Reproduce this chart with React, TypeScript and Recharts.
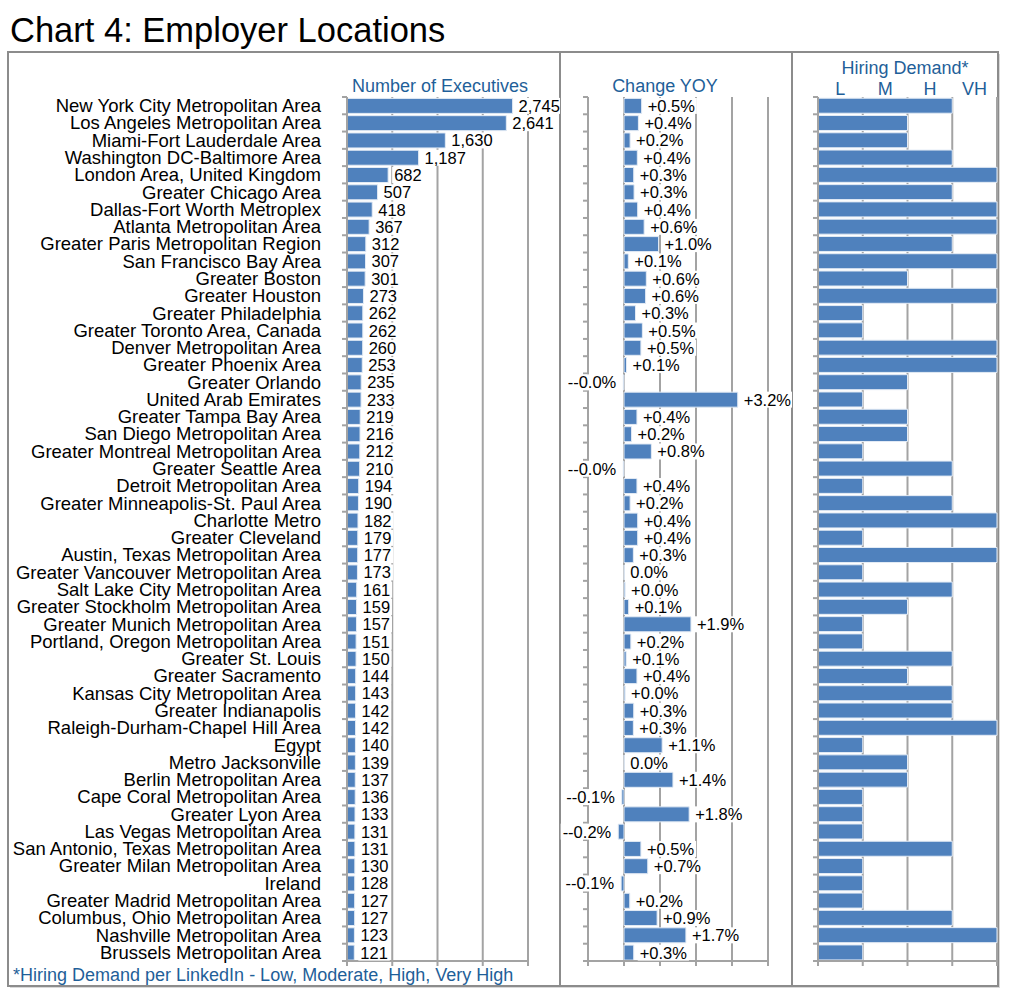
import React from "react";
import { BarChart, Bar, XAxis, YAxis, CartesianGrid, LabelList } from "recharts";

const locations = [
  "New York City Metropolitan Area",
  "Los Angeles Metropolitan Area",
  "Miami-Fort Lauderdale Area",
  "Washington DC-Baltimore Area",
  "London Area, United Kingdom",
  "Greater Chicago Area",
  "Dallas-Fort Worth Metroplex",
  "Atlanta Metropolitan Area",
  "Greater Paris Metropolitan Region",
  "San Francisco Bay Area",
  "Greater Boston",
  "Greater Houston",
  "Greater Philadelphia",
  "Greater Toronto Area, Canada",
  "Denver Metropolitan Area",
  "Greater Phoenix Area",
  "Greater Orlando",
  "United Arab Emirates",
  "Greater Tampa Bay Area",
  "San Diego Metropolitan Area",
  "Greater Montreal Metropolitan Area",
  "Greater Seattle Area",
  "Detroit Metropolitan Area",
  "Greater Minneapolis-St. Paul Area",
  "Charlotte Metro",
  "Greater Cleveland",
  "Austin, Texas Metropolitan Area",
  "Greater Vancouver Metropolitan Area",
  "Salt Lake City Metropolitan Area",
  "Greater Stockholm Metropolitan Area",
  "Greater Munich Metropolitan Area",
  "Portland, Oregon Metropolitan Area",
  "Greater St. Louis",
  "Greater Sacramento",
  "Kansas City Metropolitan Area",
  "Greater Indianapolis",
  "Raleigh-Durham-Chapel Hill Area",
  "Egypt",
  "Metro Jacksonville",
  "Berlin Metropolitan Area",
  "Cape Coral Metropolitan Area",
  "Greater Lyon Area",
  "Las Vegas Metropolitan Area",
  "San Antonio, Texas Metropolitan Area",
  "Greater Milan Metropolitan Area",
  "Ireland",
  "Greater Madrid Metropolitan Area",
  "Columbus, Ohio Metropolitan Area",
  "Nashville Metropolitan Area",
  "Brussels Metropolitan Area",
];

const executives = [
  2745, 2641, 1630, 1187, 682, 507, 418, 367, 312, 307, 301, 273, 262, 262, 260, 253, 235, 233, 219, 216,
  212, 210, 194, 190, 182, 179, 177, 173, 161, 159, 157, 151, 150, 144, 143, 142, 142, 140, 139, 137,
  136, 133, 131, 131, 130, 128, 127, 127, 123, 121,
];

// change year over year, in percent
const changeYoy = [
  0.49, 0.4, 0.17, 0.37, 0.27, 0.28, 0.38, 0.56, 0.96, 0.12, 0.62, 0.6, 0.32, 0.51, 0.47, 0.07, -0.02, 3.16, 0.36, 0.21,
  0.76, -0.02, 0.36, 0.17, 0.38, 0.38, 0.26, 0, 0.03, 0.13, 1.86, 0.19, 0.06, 0.36, 0.03, 0.27, 0.26, 1.06, 0, 1.36,
  -0.06, 1.81, -0.16, 0.47, 0.66, -0.08, 0.16, 0.92, 1.72, 0.27,
];

// 1 = Low, 2 = Moderate, 3 = High, 4 = Very High
const hiringDemand = [
  3, 2, 2, 3, 4, 3, 4, 4, 3, 4, 2, 4, 1, 1, 4, 4, 2, 1, 2, 2,
  1, 3, 1, 3, 4, 1, 4, 1, 3, 2, 1, 1, 3, 2, 3, 3, 4, 1, 2, 2,
  1, 1, 1, 3, 1, 1, 1, 3, 4, 1,
];

const demandLevels = ["L", "M", "H", "VH"];
const execTicks = [0, 750, 1500, 2250, 3000];
const changeTicks = [-1, 0, 1, 2, 3, 4];
const demandTicks = [0, 1, 2, 3, 4];
const demandLabelTicks = [0.5, 1.5, 2.5, 3.5];

const data = locations.map((name, i) => ({
  name,
  executives: executives[i],
  change: changeYoy[i],
  demand: hiringDemand[i],
}));

const FONT = '"Liberation Sans", Arial, Helvetica, sans-serif';
const BAR = "#4f81bd";
const BAR_EDGE = "#e3ebf5";
const GRID = "#a3a3a3";
const HEAD = "#1f5f99";
const TOP = 97;
const BOTTOM = 961;
const ROW = (BOTTOM - TOP) / locations.length;
const LABEL_SIZE = 16.5;

const charW: Record<string, number> = { ",": 0.278, ".": 0.278, "+": 0.584, "-": 0.333, "%": 0.889 };
function textWidth(s: string, size: number) {
  let w = 0;
  for (const c of s) w += charW[c] ?? 0.556;
  return w * size;
}

function CatTick(props: any) {
  const { y, index, payload, axisX, showText } = props;
  const top = y - ROW / 2;
  return (
    <g>
      <line x1={axisX - 5} x2={axisX} y1={top} y2={top} stroke={GRID} strokeWidth={2} />
      {index === locations.length - 1 && (
        <line x1={axisX - 5} x2={axisX} y1={y + ROW / 2} y2={y + ROW / 2} stroke={GRID} strokeWidth={2} />
      )}
      {showText && (
        <text x={321} y={y} textAnchor="end" dominantBaseline="central" fontSize={18.5} fill="#000">
          {payload.value}
        </text>
      )}
    </g>
  );
}

function EmptyTick() {
  return <g />;
}

function ValueLabel({ props, text }: { props: any; text: string }) {
  const vb = props.viewBox ?? props;
  const x = Number(vb.x);
  const w = Number(vb.width);
  const y = Number(vb.y);
  const h = Number(vb.height);
  const left = Math.min(x, x + w);
  const right = Math.max(x, x + w);
  const neg = Number(props.value) < 0;
  const tw = textWidth(text, LABEL_SIZE);
  const tx = neg ? left - 7 : right + 6;
  const cy = y + h / 2;
  const rx = neg ? tx - tw - 2 : tx - 2;
  return (
    <g>
      <rect x={rx} y={cy - 8} width={tw + 4} height={16} fill="#fff" />
      <text
        x={tx}
        y={cy}
        textAnchor={neg ? "end" : "start"}
        dominantBaseline="central"
        fontSize={LABEL_SIZE}
        fill="#000"
      >
        {text}
      </text>
    </g>
  );
}

function fmtChange(v: number) {
  if (v > 0) return `+${v.toFixed(1)}%`;
  if (v < 0) return `-${v.toFixed(1)}%`;
  return "0.0%";
}

const axisLine = { stroke: GRID, strokeWidth: 2 };

export default function App() {
  return (
    <div style={{ position: "absolute", left: 0, top: 0, width: 1024, height: 1004, fontFamily: FONT, background: "#fff" }}>
      <svg width={1024} height={1004} style={{ position: "absolute", left: 0, top: 0 }}>
        <text x={10} y={42} fontSize={34.5} fill="#000">
          Chart 4: Employer Locations
        </text>
        <rect x={10} y={54} width={990} height={934} fill="#d9d9d9" />
        <rect x={8} y={52} width={990} height={934} fill="#fff" stroke="#8c8c8c" strokeWidth={2} />
        <line x1={560} x2={560} y1={52} y2={986} stroke="#8c8c8c" strokeWidth={2} />
        <line x1={792} x2={792} y1={52} y2={986} stroke="#8c8c8c" strokeWidth={2} />
        <text x={440} y={92} textAnchor="middle" fontSize={18} fill={HEAD}>
          Number of Executives
        </text>
        <text x={665} y={92} textAnchor="middle" fontSize={18} fill={HEAD}>
          Change YOY
        </text>
        <text x={905} y={74} textAnchor="middle" fontSize={18} fill={HEAD}>
          Hiring Demand*
        </text>
        <text x={13} y={981} fontSize={18} fill={HEAD}>
          *Hiring Demand per LinkedIn - Low, Moderate, High, Very High
        </text>
      </svg>

      <div style={{ position: "absolute", left: 0, top: 0 }}>
        <BarChart
          width={560}
          height={1004}
          data={data}
          layout="vertical"
          barCategoryGap="8%"
          margin={{ top: TOP, right: 32, bottom: 1004 - BOTTOM - 20, left: 0 }}
        >
          <CartesianGrid horizontal={false} stroke={GRID} strokeWidth={2} />
          <XAxis
            type="number"
            domain={[0, 3000]}
            ticks={execTicks}
            tick={EmptyTick}
            tickSize={5}
            tickLine={axisLine}
            axisLine={axisLine}
            height={20}
          />
          <YAxis
            type="category"
            dataKey="name"
            width={347}
            interval={0}
            tickLine={false}
            axisLine={axisLine}
            tick={(p: any) => <CatTick {...p} axisX={347} showText />}
          />
          <Bar dataKey="executives" fill={BAR} stroke={BAR_EDGE} strokeWidth={1} isAnimationActive={false}>
            <LabelList
              dataKey="executives"
              content={(p: any) => <ValueLabel props={p} text={Number(p.value).toLocaleString("en-US")} />}
            />
          </Bar>
        </BarChart>
      </div>

      <div style={{ position: "absolute", left: 560, top: 0 }}>
        <BarChart
          width={232}
          height={1004}
          data={data}
          layout="vertical"
          barCategoryGap="8%"
          margin={{ top: TOP, right: 24, bottom: 1004 - BOTTOM - 20, left: 0 }}
        >
          <CartesianGrid horizontal={false} stroke={GRID} strokeWidth={2} />
          <XAxis
            type="number"
            domain={[-1, 4]}
            ticks={changeTicks}
            tick={EmptyTick}
            tickSize={5}
            tickLine={axisLine}
            axisLine={axisLine}
            height={20}
          />
          <YAxis
            type="category"
            dataKey="name"
            width={28}
            interval={0}
            tickLine={false}
            axisLine={axisLine}
            tick={(p: any) => <CatTick {...p} axisX={28} showText={false} />}
          />
          <Bar
            dataKey="change"
            fill={BAR}
            stroke={BAR_EDGE}
            strokeWidth={1}
            minPointSize={0.3}
            isAnimationActive={false}
          >
            <LabelList dataKey="change" content={(p: any) => <ValueLabel props={p} text={fmtChange(Number(p.value))} />} />
          </Bar>
        </BarChart>
      </div>

      <div style={{ position: "absolute", left: 792, top: 0 }}>
        <BarChart
          width={220}
          height={1004}
          data={data}
          layout="vertical"
          barCategoryGap="7%"
          margin={{ top: TOP, right: 15, bottom: 1004 - BOTTOM - 20, left: 0 }}
        >
          <CartesianGrid horizontal={false} stroke={GRID} strokeWidth={2} />
          <XAxis
            type="number"
            domain={[0, 4]}
            ticks={demandTicks}
            tick={EmptyTick}
            tickSize={5}
            tickLine={axisLine}
            axisLine={axisLine}
            height={20}
          />
          <YAxis
            type="category"
            dataKey="name"
            width={26}
            interval={0}
            tickLine={false}
            axisLine={axisLine}
            tick={(p: any) => <CatTick {...p} axisX={26} showText={false} />}
          />
          <Bar dataKey="demand" fill={BAR} stroke={BAR_EDGE} strokeWidth={1} isAnimationActive={false} />
        </BarChart>
      </div>

      {/* level names along the top of the hiring demand panel */}
      <div style={{ position: "absolute", left: 792, top: 0 }}>
        <BarChart
          width={220}
          height={1004}
          data={data}
          layout="vertical"
          margin={{ top: TOP - 20, right: 15, bottom: 1004 - BOTTOM, left: 26 }}
        >
          <XAxis
            orientation="top"
            type="number"
            domain={[0, 4]}
            ticks={demandLabelTicks}
            tickFormatter={(v: number) => demandLevels[Math.floor(v)]}
            tick={{ fontSize: 18, fill: HEAD }}
            tickSize={0}
            tickMargin={2}
            tickLine={false}
            axisLine={false}
            height={20}
          />
          <YAxis type="category" dataKey="name" hide />
          <Bar dataKey="demand" fill="none" stroke="none" isAnimationActive={false} />
        </BarChart>
      </div>
    </div>
  );
}
